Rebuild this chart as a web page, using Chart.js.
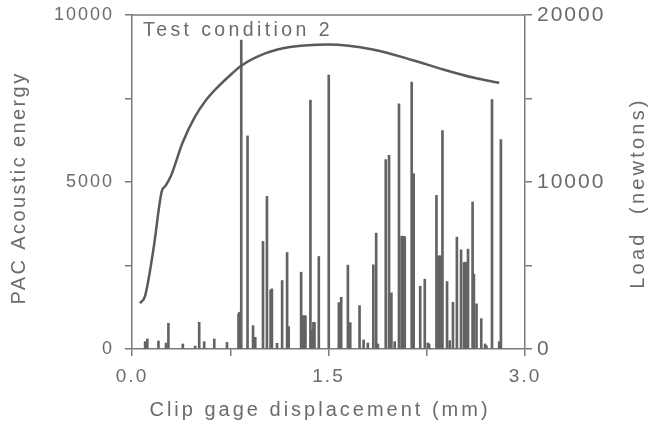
<!DOCTYPE html>
<html>
<head>
<meta charset="utf-8">
<script src="https://cdn.jsdelivr.net/npm/chart.js@4.4.1/dist/chart.umd.min.js"></script>
<style>
html, body { margin: 0; padding: 0; background: #fff; }
#wrap { width: 649px; height: 423px; }
</style>
</head>
<body>
<div id="wrap"><canvas id="acoustic-chart"></canvas></div>
<script>
// acoustic energy spikes (clip gage displacement in mm, PAC energy)
var barX = [0.100, 0.117, 0.202, 0.260, 0.278, 0.388, 0.482, 0.513, 0.551, 0.628,
            0.725, 0.813, 0.820, 0.827, 0.834, 0.882, 0.924, 0.941, 1.000, 1.030,
            1.058, 1.068, 1.107, 1.146, 1.184, 1.196, 1.291, 1.306, 1.315, 1.324,
            1.362, 1.375, 1.385, 1.393, 1.426, 1.502, 1.579, 1.597, 1.648, 1.666,
            1.737, 1.768, 1.800, 1.842, 1.864, 1.877, 1.937, 1.962, 1.980, 2.005,
            2.038, 2.058, 2.066, 2.074, 2.082, 2.135, 2.150, 2.200, 2.235, 2.258,
            2.268, 2.324, 2.332, 2.340, 2.348, 2.356, 2.364, 2.370, 2.405, 2.425,
            2.450, 2.480, 2.512, 2.535, 2.543, 2.551, 2.565, 2.600, 2.610, 2.630,
            2.666, 2.695, 2.705, 2.748, 2.803, 2.816];
var barEnergy = [220, 300, 240, 180, 770, 150, 90, 800, 220, 300,
                 200, 1050, 1100, 1100, 9250, 6380, 700, 350, 3220, 4570,
                 1770, 1800, 170, 2050, 2890, 670, 2300, 990, 1000, 990,
                 7450, 570, 800, 790, 2770, 8200, 1390, 1550, 2510, 790,
                 1300, 270, 180, 2520, 3470, 150, 5670, 5800, 1680, 220,
                 7340, 3370, 3380, 3370, 3360, 7990, 5250, 1880, 2090, 180,
                 150, 4600, 2780, 2790, 2780, 2790, 2760, 6540, 2020, 250,
                 1400, 3350, 2970, 2590, 2600, 2590, 2990, 4400, 2240, 1350,
                 910, 150, 100, 7470, 220, 6270];

// load curve (displacement in mm, load in newtons)
var loadX = [0.061, 0.100, 0.163, 0.227, 0.253, 0.296, 0.385, 0.480, 0.560, 0.650,
             0.764, 0.837, 1.017, 1.206, 1.500, 1.838, 2.150, 2.375, 2.612, 2.803];
var loadNewtons = [2740, 3180, 5940, 9440, 9740, 10340, 12340, 13900, 14850, 15650,
                   16500, 16980, 17700, 18080, 18240, 17940, 17280, 16740, 16240, 15940];

var xTickLabels = ['0.0', '1.5', '3.0'];
var energyTickLabels = ['0', '5000', '10000'];
var loadTickLabels = ['0', '10000', '20000'];

var ink = '#5a5a5a';
var axisInk = '#7a7a7a';
var textInk = '#6b6b6b';
var family = '"Liberation Sans", Arial, Helvetica, sans-serif';

function labelFor(list, value) {
    for (var i = 0; i < list.length; i++) {
        if (Math.abs(parseFloat(list[i]) - value) < 1e-6) return list[i];
    }
    return '';
}

// no extra room for half labels, the plot box is fixed
function fixY(width) {
    return function(s) { s.width = width; s.paddingTop = 0; s.paddingBottom = 0; };
}

var paperPlugin = {
    id: 'paper',
    beforeLayout: function(chart) { chart.ctx.letterSpacing = '2px'; },
    beforeDraw: function(chart) { chart.ctx.letterSpacing = '2px'; },
    afterDraw: function(chart) {
        var ctx = chart.ctx, a = chart.chartArea;
        ctx.save();
        ctx.strokeStyle = axisInk;
        ctx.lineWidth = 1.5;
        ctx.beginPath();
        ctx.moveTo(a.left, a.top);
        ctx.lineTo(a.right, a.top);
        ctx.stroke();

        ctx.fillStyle = textInk;
        ctx.textBaseline = 'middle';
        ctx.textAlign = 'center';
        ctx.letterSpacing = '3px';
        ctx.font = '20px ' + family;
        ctx.fillText('Clip gage displacement (mm)', 320, 410);

        ctx.save();
        ctx.translate(19, 188);
        ctx.rotate(-Math.PI / 2);
        ctx.letterSpacing = '2.4px';
        ctx.fillText('PAC Acoustic energy', 0, 0);
        ctx.restore();

        ctx.save();
        ctx.translate(638, 193);
        ctx.rotate(-Math.PI / 2);
        ctx.letterSpacing = '3.2px';
        ctx.fillText('Load  (newtons)', 0, 0);
        ctx.restore();

        ctx.textAlign = 'left';
        ctx.textBaseline = 'alphabetic';
        ctx.letterSpacing = '3.4px';
        ctx.font = '19.5px ' + family;
        ctx.fillText('Test condition 2', a.left + 11, a.top + 21);
        ctx.restore();
    }
};

var spikes = [];
for (var i = 0; i < barX.length; i++) spikes.push({ x: barX[i], y: barEnergy[i] });
var loadPoints = [];
for (var j = 0; j < loadX.length; j++) loadPoints.push({ x: loadX[j], y: loadNewtons[j] });

new Chart(document.getElementById('acoustic-chart'), {
    type: 'bar',
    data: {
        datasets: [{
            type: 'line',
            label: 'Load',
            data: loadPoints,
            yAxisID: 'y2',
            borderColor: ink,
            borderWidth: 2.5,
            pointRadius: 0,
            cubicInterpolationMode: 'monotone',
            fill: false
        }, {
            label: 'PAC Acoustic energy',
            data: spikes,
            yAxisID: 'y',
            backgroundColor: '#636363',
            borderWidth: 0,
            barThickness: 2,
            grouped: false
        }]
    },
    options: {
        responsive: true,
        maintainAspectRatio: false,
        animation: false,
        layout: { padding: { top: 15, left: 0, right: 0, bottom: 0 } },
        plugins: { legend: { display: false }, tooltip: { enabled: false } },
        scales: {
            x: {
                type: 'linear',
                min: 0, max: 3,
                offset: false,
                afterFit: function(s) { s.height = 74; s.paddingLeft = 0; s.paddingRight = 0; },
                border: { display: true, color: axisInk, width: 1.5 },
                grid: { drawOnChartArea: false, drawTicks: true, tickLength: 7, color: axisInk, lineWidth: 1.5, offset: false },
                ticks: {
                    stepSize: 0.75,
                    autoSkip: false,
                    maxRotation: 0,
                    padding: 9,
                    color: textInk,
                    font: { family: family, size: 19 },
                    callback: function(v) { return labelFor(xTickLabels, v); }
                }
            },
            y: {
                position: 'left',
                min: 0, max: 10000,
                afterFit: fixY(132),
                border: { display: true, color: axisInk, width: 1.5 },
                grid: { drawOnChartArea: false, drawTicks: true, tickLength: 7, color: axisInk, lineWidth: 1.5 },
                ticks: {
                    stepSize: 2500,
                    autoSkip: false,
                    padding: 11,
                    color: textInk,
                    font: { family: family, size: 18 },
                    callback: function(v) { return labelFor(energyTickLabels, v); }
                }
            },
            y2: {
                position: 'right',
                min: 0, max: 20000,
                afterFit: fixY(124),
                border: { display: true, color: axisInk, width: 1.5 },
                grid: { drawOnChartArea: false, drawTicks: true, tickLength: 7, color: axisInk, lineWidth: 1.5 },
                ticks: {
                    stepSize: 5000,
                    autoSkip: false,
                    padding: 5,
                    color: textInk,
                    font: { family: family, size: 21 },
                    callback: function(v) { return labelFor(loadTickLabels, v); }
                }
            }
        }
    },
    plugins: [paperPlugin]
});
</script>
</body>
</html>
